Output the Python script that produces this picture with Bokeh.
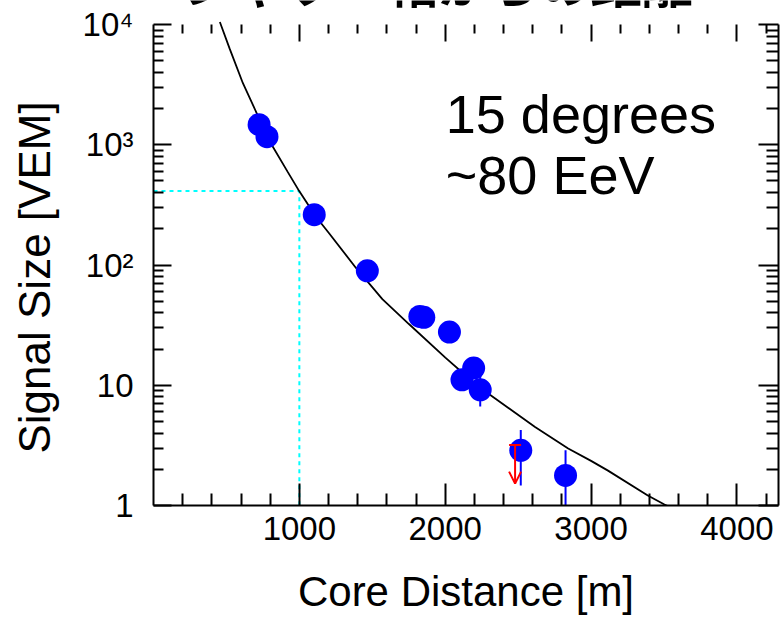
from bokeh.plotting import figure
from bokeh.models import (FixedTicker, LinearAxis, LogAxis, Range1d, Label, Whisker,
                          ColumnDataSource, TeeHead, OpenHead, CustomLabelingPolicy)
from bokeh.embed import file_html
from bokeh.resources import INLINE

# ---------------- data ----------------
title_text = "シャワー軸からの距離"
note_line1 = "15 degrees"
note_line2 = "~80 EeV"
x_title = "Core Distance [m]"
y_title = "Signal Size [VEM]"

# station signals (blue dots)
core_distance = [724, 778, 1102, 1466, 1826, 1853, 2029, 2115, 2195, 2240, 2518, 2825]
signal = [1470, 1167, 262, 89.6, 37.4, 36.7, 27.7, 11.1, 13.9, 9.17, 2.88, 1.78]

# visible error bars
err_distance = [2240, 2518, 2825]
err_low = [6.65, 1.47, 0.5]
err_high = [12.6, 4.24, 2.88]

# upper limit (red arrow)
limit_distance = [2479]
limit_top = [3.18]
limit_bottom = [1.52]

# fitted lateral distribution function
fit_distance = [455, 522, 613, 715, 807, 920, 1000, 1114, 1205, 1387, 1569, 1751,
                2001, 2160, 2297, 2616, 2843, 3000, 3116, 3389, 3503, 3540]
fit_signal = [10500, 6300, 3250, 1750, 1015, 595, 410, 252, 183, 95, 52, 32.3,
              17, 11.5, 8.5, 4.5, 2.98, 2.35, 1.95, 1.21, 1.02, 0.97]

# S(1000) reference
ref_distance = [0, 1000, 1000]
ref_signal = [412, 412, 1]

x_major = [1000, 2000, 3000, 4000]
x_minor = [200, 400, 600, 800, 1200, 1400, 1600, 1800, 2200, 2400, 2600, 2800,
           3200, 3400, 3600, 3800, 4200]
y_major = [1, 10, 100, 1000, 10000]
y_labels = ["1", "10", "10²", "10³", "10⁴"]
y_minor = [2, 3, 4, 5, 6, 7, 8, 9, 20, 30, 40, 50, 60, 70, 80, 90,
           200, 300, 400, 500, 600, 700, 800, 900,
           2000, 3000, 4000, 5000, 6000, 7000, 8000, 9000]

FONT = "Liberation Sans"
TICK_FONT = "'Liberation Sans Narrow', 'Liberation Sans', sans-serif"

# the frame reaches the top of the canvas; the plotted axes stop at 10^4
p = figure(width=782, height=619, x_range=Range1d(0, 4285), y_range=Range1d(1, 15849),
           y_axis_type="log", x_axis_location=None, y_axis_location=None,
           output_backend="svg", toolbar_location=None,
           min_border_left=153, min_border_right=1, min_border_top=0, min_border_bottom=114)
p.outline_line_color = None
p.grid.visible = False
p.background_fill_color = "white"
p.border_fill_color = "white"

xt = FixedTicker(ticks=x_major, minor_ticks=x_minor)
yt = FixedTicker(ticks=y_major, minor_ticks=y_minor)

no_labels = CustomLabelingPolicy(code="""
const all = [...indices]
for (const i of all) indices.unset(i)
""")


def style_axis(ax, major_in, minor_in, line=True):
    ax.major_tick_in = major_in
    ax.major_tick_out = 0
    ax.minor_tick_in = minor_in
    ax.minor_tick_out = 0
    ax.major_tick_line_color = "black"
    ax.minor_tick_line_color = "black"
    ax.major_tick_line_width = 2
    ax.minor_tick_line_width = 2
    ax.axis_line_color = "black" if line else None
    ax.axis_line_width = 2


bottom = LinearAxis(ticker=xt, axis_label=x_title)
style_axis(bottom, 22, 12)
bottom.major_label_text_font = TICK_FONT
bottom.major_label_text_font_size = "33px"
bottom.major_label_text_color = "black"
bottom.major_label_standoff = 11
bottom.axis_label_text_font = FONT
bottom.axis_label_text_font_size = "42px"
bottom.axis_label_text_font_style = "normal"
bottom.axis_label_text_color = "black"
bottom.axis_label_standoff = 25
p.add_layout(bottom, "below")

top = LinearAxis(ticker=xt, fixed_location=10000)
style_axis(top, 17, 9, line=False)
top.major_label_text_font_size = "1px"
top.major_label_standoff = 0
top.major_label_policy = no_labels
p.add_layout(top, "above")

# trailing no-break spaces move the centred title down along the axis
left = LogAxis(ticker=yt, bounds=(1, 10000),
               axis_label=y_title + "\u00a0\u00a0\u00a0\u00a0")
style_axis(left, 18, 10)
left.major_label_overrides = dict(zip(y_major, y_labels))
left.major_label_text_font = TICK_FONT
left.major_label_text_font_size = "33px"
left.major_label_text_color = "black"
left.major_label_standoff = 20
left.axis_label_text_font = FONT
left.axis_label_text_font_size = "44px"
left.axis_label_text_font_style = "normal"
left.axis_label_text_color = "black"
left.axis_label_standoff = 21
p.add_layout(left, "left")

right = LogAxis(ticker=yt, bounds=(1, 10000))
style_axis(right, 20, 12)
right.major_label_text_font_size = "1px"
right.major_label_standoff = 0
right.major_label_policy = no_labels
p.add_layout(right, "right")

# S(1000) guide
p.line(ref_distance, ref_signal, line_color="#00FFFF", line_width=2, line_dash="4 4")

# fit curve
p.line(fit_distance, fit_signal, line_color="black", line_width=1.8)

# error bars
p.segment(x0=err_distance, y0=err_low, x1=err_distance, y1=err_high,
          line_color="blue", line_width=2)

# station signals
p.scatter(core_distance, signal, size=23, fill_color="blue", line_color="blue", line_width=0)

# upper limit
lim_src = ColumnDataSource(dict(x=limit_distance, top=limit_top, bottom=limit_bottom))
p.add_layout(Whisker(source=lim_src, base="x", upper="top", lower="bottom", dimension="height",
                     line_color="red", line_width=2, level="overlay",
                     upper_head=TeeHead(size=12, line_color="red", line_width=2),
                     lower_head=OpenHead(size=12, line_color="red", line_width=2)))

# texts
p.add_layout(Label(x=2004, y=1806, text=note_line1, text_font=FONT, text_font_size="54px",
                   text_color="black", text_baseline="middle"))
p.add_layout(Label(x=2004, y=560, text=note_line2, text_font=FONT, text_font_size="54px",
                   text_color="black", text_baseline="middle"))
p.add_layout(Label(x=1948, y=23040, text=title_text, text_font="Noto Sans CJK JP",
                   text_font_size="51px", text_font_style="bold", text_color="black",
                   text_align="center", text_baseline="middle"))

open("out.html", "w").write(file_html(p, INLINE))
